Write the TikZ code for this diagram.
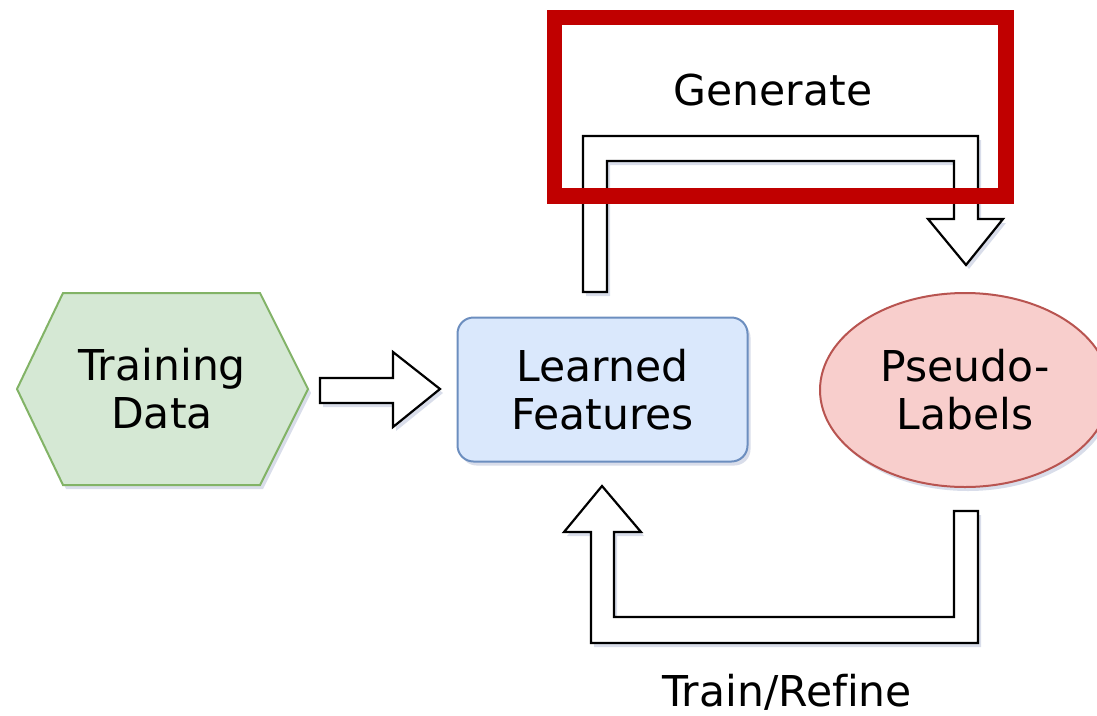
\documentclass[tikz,border=0pt]{standalone}
\usepackage{fontspec}
\newfontfamily\dvs[Ligatures=NoCommon]{DejaVu Sans}
\usetikzlibrary{shapes.geometric,shadows}
\definecolor{gfill}{HTML}{D5E8D4}\definecolor{gline}{HTML}{82B366}
\definecolor{bfill}{HTML}{DAE8FC}\definecolor{bline}{HTML}{6C8EBF}
\definecolor{rfill}{HTML}{F8CECC}\definecolor{rline}{HTML}{B85450}
\definecolor{boxred}{HTML}{C00000}
\definecolor{shcol}{HTML}{8090B8}
\tikzset{
  sh/.style={drop shadow={shadow xshift=3pt,shadow yshift=-4pt,fill=shcol,opacity=0.3}},
  txt/.style={font=\dvs\fontsize{42.5}{48}\selectfont,align=center,text=black},
  blockarrow/.style={draw=black,fill=white,line width=2.2pt,line join=miter,sh},
}
\begin{document}
\begin{tikzpicture}[x=1pt,y=-1pt]
\useasboundingbox (0,0) rectangle (1097,715);
% Training data hexagon
\fill[gfill,sh] (17,389) -- (63,293) -- (260,293) -- (308,389) -- (260,485) -- (63,485) -- cycle;
\draw[gline,line width=2pt] (17,389) -- (63,293) -- (260,293) -- (308,389) -- (260,485) -- (63,485) -- cycle;
\node[txt] (train) at (162,389) {Training\\Data};
% Learned features
\node[txt,draw=bline,fill=bfill,line width=2pt,rounded corners=16pt,minimum width=290pt,minimum height=144pt,sh] (feat) at (602.5,389.5) {Learned\\Features};
% Pseudo-labels
\node[txt,ellipse,draw=rline,fill=rfill,line width=2pt,minimum width=290pt,minimum height=194pt,sh] (pseudo) at (965,390) {Pseudo-\\Labels};
% arrow training -> features
\draw[blockarrow] (320,378) -- (393,378) -- (393,352) -- (440,389) -- (393,427) -- (393,403) -- (320,403) -- cycle;
% Generate arrow
\draw[blockarrow] (583,292) -- (583,136) -- (978,136) -- (978,219) -- (1003,219) -- (966,265) -- (928,219) -- (954,219) -- (954,161) -- (607,161) -- (607,292) -- cycle;
% Train/Refine arrow
\draw[blockarrow] (954,511) -- (978,511) -- (978,643) -- (591,643) -- (591,532) -- (564,532) -- (602,486) -- (641,532) -- (614,532) -- (614,617) -- (954,617) -- cycle;
% Red highlight box
\draw[boxred,line width=15.5pt,line join=miter] (554.5,17.5) rectangle (1006,196);
\node[txt] (gen) at (773,90) {Generate};
\node[txt] (refine) at (787,692) {Train/Refine};
\end{tikzpicture}
\end{document}
